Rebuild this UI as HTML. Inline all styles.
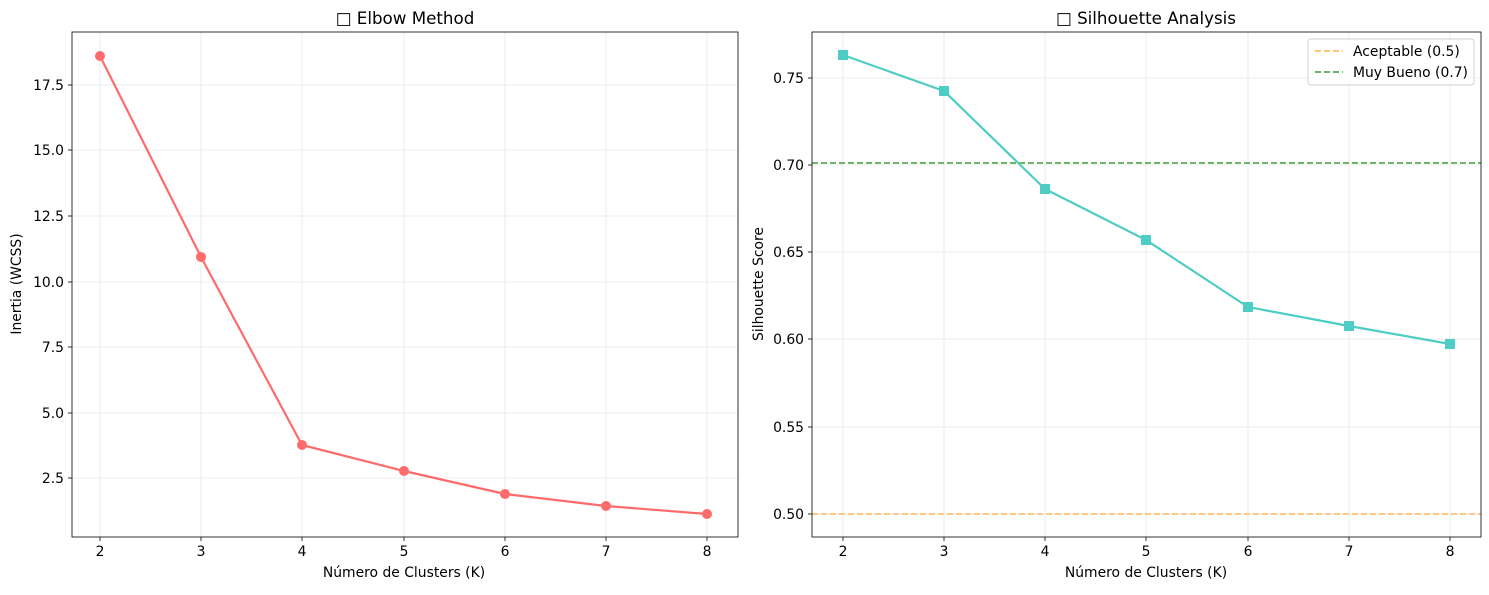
<!DOCTYPE html><html><head><style>body{margin:0;background:#fff}svg{font-family:"DejaVu Sans","Liberation Sans",sans-serif}</style></head><body>
<svg width="1489" height="590" xmlns="http://www.w3.org/2000/svg">
<rect width="1489" height="590" fill="#fff"/>
<g stroke="#e6e6e6" stroke-width="0.8">
<line x1="100" y1="32" x2="100" y2="537"/><line x1="201" y1="32" x2="201" y2="537"/><line x1="302" y1="32" x2="302" y2="537"/><line x1="404" y1="32" x2="404" y2="537"/><line x1="505" y1="32" x2="505" y2="537"/><line x1="606" y1="32" x2="606" y2="537"/><line x1="707" y1="32" x2="707" y2="537"/>
<line x1="72" y1="85" x2="738" y2="85"/><line x1="72" y1="150" x2="738" y2="150"/><line x1="72" y1="216" x2="738" y2="216"/><line x1="72" y1="282" x2="738" y2="282"/><line x1="72" y1="347" x2="738" y2="347"/><line x1="72" y1="413" x2="738" y2="413"/><line x1="72" y1="478" x2="738" y2="478"/>
<line x1="843" y1="32" x2="843" y2="537"/><line x1="944" y1="32" x2="944" y2="537"/><line x1="1045" y1="32" x2="1045" y2="537"/><line x1="1146" y1="32" x2="1146" y2="537"/><line x1="1248" y1="32" x2="1248" y2="537"/><line x1="1349" y1="32" x2="1349" y2="537"/><line x1="1450" y1="32" x2="1450" y2="537"/>
<line x1="812" y1="78" x2="1481" y2="78"/><line x1="812" y1="165" x2="1481" y2="165"/><line x1="812" y1="252" x2="1481" y2="252"/><line x1="812" y1="339" x2="1481" y2="339"/><line x1="812" y1="427" x2="1481" y2="427"/><line x1="812" y1="514" x2="1481" y2="514"/>
</g>
<polyline points="100,56 201,257 302,445 404,471 505,494 606,506 707,514" fill="none" stroke="#ff6b6b" stroke-width="2.2"/>
<g fill="#ff6b6b"><circle cx="100" cy="56" r="5"/><circle cx="201" cy="257" r="5"/><circle cx="302" cy="445" r="5"/><circle cx="404" cy="471" r="5"/><circle cx="505" cy="494" r="5"/><circle cx="606" cy="506" r="5"/><circle cx="707" cy="514" r="5"/></g>
<line x1="812" y1="514" x2="1481" y2="514" stroke="#ffb347" stroke-width="1.6" stroke-dasharray="6,3" stroke-opacity="0.9"/>
<line x1="812" y1="163" x2="1481" y2="163" stroke="#3a9e3a" stroke-width="1.6" stroke-dasharray="6,3"/>
<polyline points="843,55 944,91 1045,189 1146,240 1248,307 1349,326 1450,344" fill="none" stroke="#4ecdc4" stroke-width="2.2"/>
<g fill="#4ecdc4"><rect x="838" y="50" width="10" height="10"/><rect x="939" y="86" width="10" height="10"/><rect x="1040" y="184" width="10" height="10"/><rect x="1141" y="235" width="10" height="10"/><rect x="1243" y="302" width="10" height="10"/><rect x="1344" y="321" width="10" height="10"/><rect x="1445" y="339" width="10" height="10"/></g>
<rect x="72" y="32" width="666" height="505" fill="none" stroke="#000" stroke-width="0.8"/>
<rect x="812" y="32" width="669" height="505" fill="none" stroke="#000" stroke-width="0.8"/>
<g stroke="#000" stroke-width="0.8">
<line x1="100" y1="537" x2="100" y2="541"/><line x1="201" y1="537" x2="201" y2="541"/><line x1="302" y1="537" x2="302" y2="541"/><line x1="404" y1="537" x2="404" y2="541"/><line x1="505" y1="537" x2="505" y2="541"/><line x1="606" y1="537" x2="606" y2="541"/><line x1="707" y1="537" x2="707" y2="541"/>
<line x1="843" y1="537" x2="843" y2="541"/><line x1="944" y1="537" x2="944" y2="541"/><line x1="1045" y1="537" x2="1045" y2="541"/><line x1="1146" y1="537" x2="1146" y2="541"/><line x1="1248" y1="537" x2="1248" y2="541"/><line x1="1349" y1="537" x2="1349" y2="541"/><line x1="1450" y1="537" x2="1450" y2="541"/>
<line x1="68" y1="85" x2="72" y2="85"/><line x1="68" y1="150" x2="72" y2="150"/><line x1="68" y1="216" x2="72" y2="216"/><line x1="68" y1="282" x2="72" y2="282"/><line x1="68" y1="347" x2="72" y2="347"/><line x1="68" y1="413" x2="72" y2="413"/><line x1="68" y1="478" x2="72" y2="478"/>
<line x1="808" y1="78" x2="812" y2="78"/><line x1="808" y1="165" x2="812" y2="165"/><line x1="808" y1="252" x2="812" y2="252"/><line x1="808" y1="339" x2="812" y2="339"/><line x1="808" y1="427" x2="812" y2="427"/><line x1="808" y1="514" x2="812" y2="514"/>
</g>
<g font-size="13.9" fill="#000" text-anchor="middle">
<text x="100" y="556">2</text><text x="201" y="556">3</text><text x="302" y="556">4</text><text x="404" y="556">5</text><text x="505" y="556">6</text><text x="606" y="556">7</text><text x="707" y="556">8</text>
<text x="843" y="556">2</text><text x="944" y="556">3</text><text x="1045" y="556">4</text><text x="1146" y="556">5</text><text x="1248" y="556">6</text><text x="1349" y="556">7</text><text x="1450" y="556">8</text>
<text x="404" y="577">Número de Clusters (K)</text><text x="1146" y="577">Número de Clusters (K)</text>
<text x="405" y="24" font-size="16.7">□ Elbow Method</text><text x="1146" y="24" font-size="16.7">□ Silhouette Analysis</text>
</g>
<g font-size="13.9" fill="#000" text-anchor="end">
<text x="64" y="90">17.5</text><text x="64" y="155">15.0</text><text x="64" y="221">12.5</text><text x="64" y="287">10.0</text><text x="64" y="352">7.5</text><text x="64" y="418">5.0</text><text x="64" y="483">2.5</text>
<text x="804" y="83">0.75</text><text x="804" y="170">0.70</text><text x="804" y="257">0.65</text><text x="804" y="344">0.60</text><text x="804" y="432">0.55</text><text x="804" y="519">0.50</text>
</g>
<text transform="translate(21,284) rotate(-90)" font-size="13.9" text-anchor="middle">Inertia (WCSS)</text>
<text transform="translate(763,284) rotate(-90)" font-size="13.9" text-anchor="middle">Silhouette Score</text>
<rect x="1308" y="39" width="166" height="46" rx="3" fill="#fff" fill-opacity="0.8" stroke="#d0d0d0"/>
<line x1="1315" y1="51" x2="1343" y2="51" stroke="#ffb347" stroke-width="1.6" stroke-dasharray="6,3"/>
<line x1="1315" y1="72" x2="1343" y2="72" stroke="#3a9e3a" stroke-width="1.6" stroke-dasharray="6,3"/>
<text x="1353" y="56" font-size="13.9">Aceptable (0.5)</text>
<text x="1353" y="77" font-size="13.9">Muy Bueno (0.7)</text>
</svg></body></html>
